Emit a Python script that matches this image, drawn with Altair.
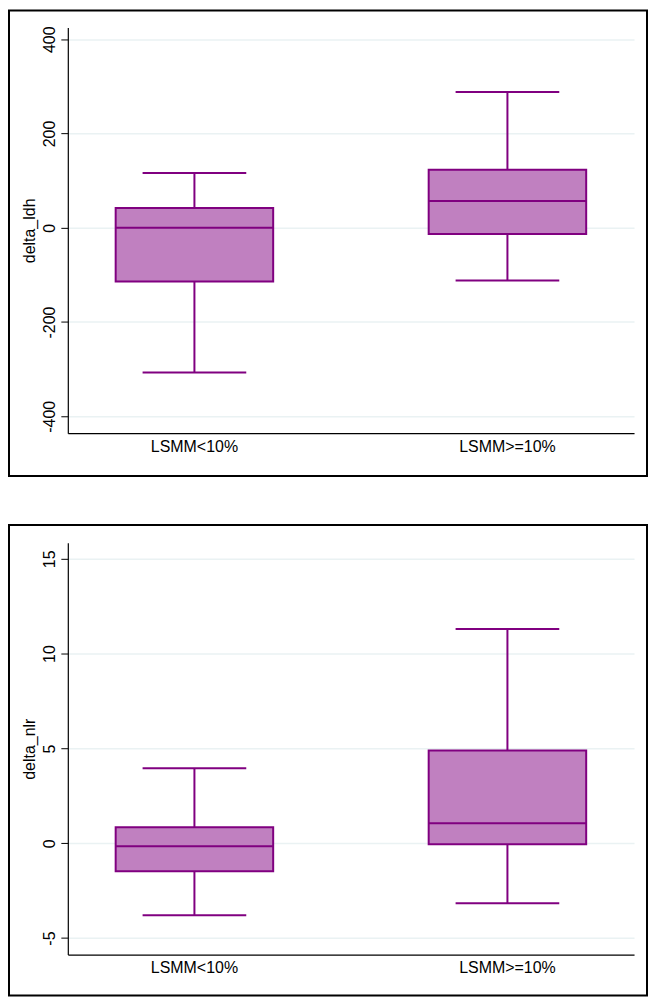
import altair as alt
import pandas as pd

groups = ["LSMM<10%", "LSMM>=10%"]

# delta_ldh box statistics
ldh_lower = [-307, -112]
ldh_q1 = [-114, -13]
ldh_median = [0, 57]
ldh_q3 = [42, 123]
ldh_upper = [116, 288]
ldh_ticks = [-400, -200, 0, 200, 400]

# delta_nlr box statistics
nlr_lower = [-3.79, -3.16]
nlr_q1 = [-1.47, -0.05]
nlr_median = [-0.16, 1.05]
nlr_q3 = [0.84, 4.89]
nlr_upper = [3.95, 11.3]
nlr_ticks = [-5, 0, 5, 10, 15]

FILL = "#c080c0"
LINE = "#800080"
FONT = "Liberation Sans"


def panel(title, lower, q1, med, q3, upper, ticks, domain, yrange, height, xoff):
    df = pd.DataFrame({"g": groups, "lo": lower, "q1": q1, "med": med,
                       "q3": q3, "hi": upper})
    x = alt.X("g:N", sort=groups, title=None,
              scale=alt.Scale(range=[59, 627], paddingInner=0.5, paddingOuter=0.1545),
              axis=alt.Axis(orient="bottom", offset=xoff, ticks=False, labelAngle=0,
                            labelFontSize=16, labelFont=FONT, labelColor="black",
                            labelPadding=5, domainColor="black", domainWidth=1.2,
                            grid=False))
    yscale = alt.Scale(domain=domain, range=yrange, nice=False, zero=False)
    yaxis = alt.Axis(values=ticks, offset=-59, labelAngle=270, labelFontSize=16,
                     labelFont=FONT, labelColor="black", labelPadding=3,
                     labelExpr="toString(datum.value)",
                     tickSize=7, tickColor="black", tickWidth=1,
                     domainColor="black", domainWidth=1.2,
                     grid=True, gridColor="#eaf2f3", gridWidth=1.5,
                     title=title, titleFont=FONT, titleFontSize=16,
                     titleFontWeight="normal", titleColor="black", titlePadding=4)
    base = alt.Chart(df)
    whisk = base.mark_rule(color=LINE, strokeWidth=2).encode(
        x=x, y=alt.Y("lo:Q", scale=yscale, axis=yaxis), y2="hi:Q")
    box = base.mark_bar(size=158, fill=FILL, stroke=LINE, strokeWidth=2).encode(
        x=x, y=alt.Y("q1:Q", scale=yscale), y2="q3:Q")
    median = base.mark_tick(size=158, thickness=2, color=LINE, opacity=1).encode(
        x=x, y=alt.Y("med:Q", scale=yscale))
    cap_lo = base.mark_tick(size=104, thickness=2, color=LINE, opacity=1).encode(
        x=x, y=alt.Y("lo:Q", scale=yscale))
    cap_hi = base.mark_tick(size=104, thickness=2, color=LINE, opacity=1).encode(
        x=x, y=alt.Y("hi:Q", scale=yscale))
    return alt.layer(whisk, box, median, cap_lo, cap_hi).properties(
        width=640, height=height)


top = panel("delta_ldh", ldh_lower, ldh_q1, ldh_median, ldh_q3, ldh_upper,
            ldh_ticks, [-436, 425], [424, 17], 467, -43)
bottom = panel("delta_nlr", nlr_lower, nlr_q1, nlr_median, nlr_q3, nlr_upper,
               nlr_ticks, [-5.87, 15.84], [431, 18], 472, -41)

chart = alt.vconcat(top, bottom, spacing=47).configure_view(
    stroke="black", strokeWidth=2).properties(padding=0, background="white")

chart.save("out.html", embed_options={"renderer": "svg", "actions": False})
